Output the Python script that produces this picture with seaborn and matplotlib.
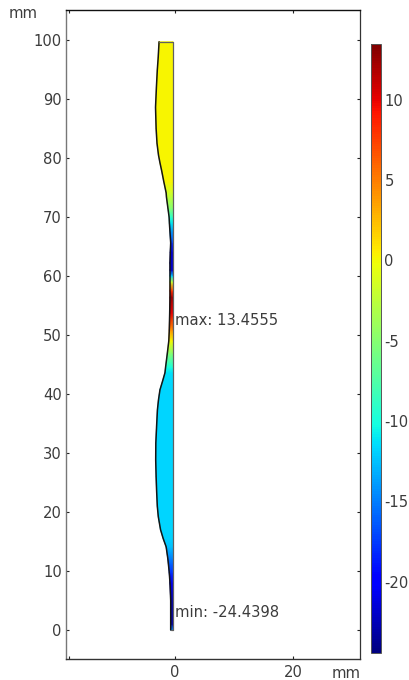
import numpy as np
import pandas as pd
import matplotlib
matplotlib.use("Agg")
import matplotlib.pyplot as plt
import seaborn as sns

# position along the part (mm), left profile (mm), stress value at that height
y_levels = [0, 1, 5, 8, 9.7, 12, 14.1, 15.5, 17, 19.2, 21, 23.7, 26, 28.8, 31.7, 34.5, 37.3, 39, 40.7, 42.2, 43.6,
            44.5, 46.9, 49, 50.8, 53.7, 56.4, 57.5, 59, 60, 61, 62.2, 64, 65.6, 69, 70, 71.5, 73.4, 74.1,
            76, 77.8, 79.2, 80.5, 82.5, 85, 88.6, 92, 94.9, 97, 99.7]
x_left = [-0.73, -0.73, -0.73, -0.85, -0.97, -1.2, -1.5, -2.0, -2.45, -2.83, -3.0, -3.12, -3.2, -3.27, -3.25, -3.12,
          -2.98, -2.8, -2.55, -2.1, -1.7, -1.6, -1.3, -1.05, -0.97, -0.9, -0.85, -0.85, -0.85, -0.85, -0.85, -0.85,
          -0.8, -0.73, -0.95, -1.0, -1.2, -1.45, -1.5, -1.9, -2.25, -2.55, -2.8, -3.05, -3.2, -3.3, -3.15, -3.0, -2.85, -2.7]
x_right = -0.34
stress = [-14, -23, -23, -21, -18, -15, -12.5, -12, -11.8, -11.8, -11.8, -11.8, -11.8, -11.8, -11.8, -11.8, -11.8,
          -11.8, -11.8, -11.6, -11.3, -10, -5, 0, 4, 10, 12.5, 8, -2, -12, -22, -22, -22, -18, -11, -9, -5, -2.5, -1.5,
          0.2, 0.2, 0.2, 0.2, 0.2, 0.2, 0.2, 0.2, 0.2, 0.2, 0.2]

y_ticks = [0, 10, 20, 30, 40, 50, 60, 70, 80, 90, 100]
x_ticks = [-18, 0, 20]
x_tick_labels = ["", "0", "20"]
cbar_ticks = [-20, -15, -10, -5, 0, 5, 10]
v_min, v_max = -24.4398, 13.4555
max_label, min_label = "max: 13.4555", "min: -24.4398"

sns.set_theme(style="ticks")
plt.rcParams["font.family"] = ["DejaVu Sans"]
plt.rcParams["axes.unicode_minus"] = False
TXT = "#3c3c3c"
FS = 10.6
W, H = 410, 680

fig = plt.figure(figsize=(W / 100, H / 100), dpi=100, facecolor="white")
L, R, T, B = 66, 360, 10, 659
ax = fig.add_axes([L / W, 1 - B / H, (R - L) / W, (B - T) / H])

yy = np.array(y_levels, float)
xl = np.array(x_left, float)
X = np.column_stack([xl, np.full_like(xl, x_right)])
Y = np.column_stack([yy, yy])
C = np.column_stack([stress, stress])
cmap = matplotlib.colormaps["jet"]
mesh = ax.pcolormesh(X, Y, C, cmap=cmap, vmin=v_min, vmax=v_max, shading="gouraud", zorder=2)

left_edge = pd.DataFrame({"x": x_left, "y": y_levels})
sns.lineplot(data=left_edge, x="x", y="y", sort=False, estimator=None, color="#151515", lw=1.1, ax=ax, zorder=3)
outer = pd.DataFrame({"x": [x_left[-1], x_right, x_right, x_left[0]],
                      "y": [y_levels[-1], y_levels[-1], y_levels[0], y_levels[0]]})
sns.lineplot(data=outer, x="x", y="y", sort=False, estimator=None, color="#606060", lw=0.9, ax=ax, zorder=3)

ax.set_xlim((L - 175) / 5.9, (R - 175) / 5.9)
ax.set_ylim((630 - B) / 5.9, (630 - T) / 5.9)
ax.set_xlabel("")
ax.set_ylabel("")
ax.set_xticks(x_ticks, x_tick_labels)
ax.set_yticks(y_ticks)
ax.tick_params(axis="both", direction="in", length=2.5, width=0.8, top=True, right=True,
               labelsize=FS, labelcolor=TXT, color="#222222", pad=3)
ax.tick_params(axis="x", pad=4.5)
for name, col, lw in [("top", "#111111", 1.0), ("right", "#333333", 0.9),
                      ("bottom", "#333333", 1.0), ("left", "#777777", 1.0)]:
    ax.spines[name].set_color(col)
    ax.spines[name].set_linewidth(lw)

ax.text(0, 52.5, max_label, fontsize=FS, color=TXT, va="center", ha="left", zorder=5)
ax.text(0, 3.0, min_label, fontsize=FS, color=TXT, va="center", ha="left", zorder=5)
fig.text(23 / W, 1 - 14 / H, "mm", fontsize=FS, color=TXT, ha="center", va="center")
fig.text(346 / W, 1 - 674 / H, "mm", fontsize=FS, color=TXT, ha="center", va="center")

cax = fig.add_axes([371 / W, 1 - 653 / H, 10 / W, (653 - 44) / H])
cb = fig.colorbar(mesh, cax=cax, ticks=cbar_ticks)
cb.outline.set_edgecolor("#555555")
cb.outline.set_linewidth(0.7)
cax.tick_params(axis="y", direction="in", length=2, width=0.8, left=True, right=False,
                labelleft=False, labelright=True, labelsize=FS, labelcolor=TXT, color="#222222", pad=2.5)
for lab in cax.get_yticklabels():
    lab.set_ha("left")

fig.savefig("out.png", dpi=100)
